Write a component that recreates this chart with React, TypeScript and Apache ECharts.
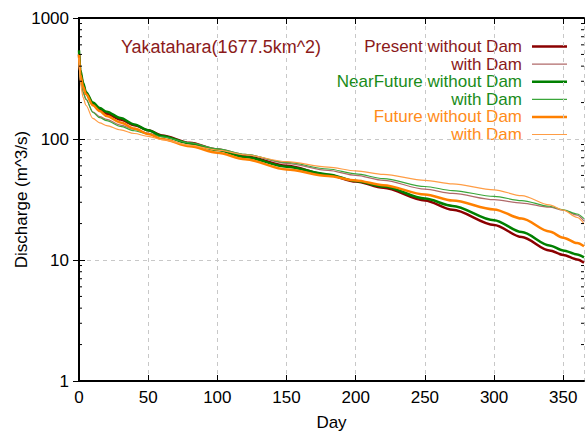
import React, { useEffect, useRef } from "react";
import * as echarts from "echarts";

const days = [0, 1, 3, 5, 10, 15, 20, 30, 40, 50, 60, 80, 100, 120, 150, 180, 200, 220, 250, 270, 300, 320, 340, 350, 360, 365];

const presentNoDam = [500, 350, 280, 240, 195, 175, 162, 145, 130, 118, 107, 93, 82, 72, 60, 50.5, 44.5, 39.5, 31, 26, 19.5, 15.5, 12, 11, 10.1, 9.5];
const presentDam = [450, 300, 240, 212, 168, 153, 145, 130, 120, 112, 105, 93, 83, 74.5, 63, 55, 50, 45.5, 38.5, 35.5, 31.5, 29.5, 27.3, 25.8, 23.5, 21];
const nearNoDam = [540, 370, 290, 245, 200, 180, 168, 149, 132, 118, 106, 92, 81, 71, 59, 51, 45, 40.5, 32.2, 28, 21.3, 17, 13.2, 12, 11.1, 10.5];
const nearDam = [480, 310, 245, 215, 166, 150, 142, 127, 117, 110, 104, 93, 83, 74.5, 64, 56.5, 51.5, 47, 40.5, 37.5, 33.5, 31, 27.8, 26, 24, 22];
const futureNoDam = [500, 340, 270, 235, 190, 170, 155, 137, 122, 110, 100, 87, 77, 68, 56, 49.5, 45.5, 41.5, 34.8, 31, 26.2, 22, 17.2, 15.3, 13.8, 13];
const futureDam = [470, 290, 220, 190, 148, 136, 129, 119, 111, 105, 99, 89, 81, 74, 65, 58.5, 54.5, 51, 45.5, 42.5, 38, 34, 28.5, 25.8, 22.5, 20];

const seriesNames = [
  "Present without Dam",
  "with Dam",
  "NearFuture without Dam",
  "with Dam",
  "Future without Dam",
  "with Dam",
];
const seriesValues = [presentNoDam, presentDam, nearNoDam, nearDam, futureNoDam, futureDam];
const lineColors = ["#8b0000", "#b06a6a", "#008000", "#3aa63a", "#ff8000", "#ff9d45"];
const textColors = ["#8b1a1a", "#8b1a1a", "#1a8c1a", "#1a8c1a", "#ff8c1a", "#ff8c1a"];
const lineWidths = [2.5, 1.2, 2.5, 1.2, 2.5, 1.2];

const chartTitle = "Yakatahara(1677.5km^2)";
const minorVals = [2, 3, 4, 5, 6, 7, 8, 9, 20, 30, 40, 50, 60, 70, 80, 90, 200, 300, 400, 500, 600, 700, 800, 900];

const FONT = "Liberation Sans, Arial, sans-serif";

export default function App() {
  const ref = useRef<HTMLDivElement>(null);
  useEffect(() => {
    if (!ref.current) return;
    const chart = echarts.init(ref.current, undefined, { renderer: "svg" });

    const lineSeries = seriesValues.map((vals, i) => ({
      type: "line",
      name: seriesNames[i] + i,
      data: days.map((d, j) => [d, vals[j]]),
      showSymbol: false,
      smooth: 0.3,
      smoothMonotone: "x",
      lineStyle: { color: lineColors[i], width: lineWidths[i] },
      itemStyle: { color: lineColors[i] },
      z: 3,
    }));

    const minorSeries = {
      type: "custom",
      data: minorVals.map((v) => [0, v]),
      encode: { x: 0, y: 1 },
      silent: true,
      clip: false,
      z: 5,
      renderItem: (params: any, api: any) => {
        const cs = params.coordSys;
        const y = api.coord([0, api.value(1)])[1];
        const x0 = cs.x;
        const x1 = cs.x + cs.width;
        return {
          type: "group",
          children: [
            { type: "line", shape: { x1: x0, y1: y, x2: x0 + 3, y2: y }, style: { stroke: "#000", lineWidth: 1 } },
            { type: "line", shape: { x1: x1 - 3, y1: y, x2: x1, y2: y }, style: { stroke: "#000", lineWidth: 1 } },
          ],
        };
      },
    };

    const legendX = 522;
    const legendY0 = 46.5;
    const legendStep = 17.6;
    const legendGraphics: any[] = [];
    seriesNames.forEach((n, i) => {
      const y = legendY0 + i * legendStep;
      legendGraphics.push({
        type: "text",
        x: legendX,
        y,
        style: { text: n, align: "right", verticalAlign: "middle", fill: textColors[i], font: `17px ${FONT}`, lineHeight: 16 },
      });
      legendGraphics.push({
        type: "line",
        shape: { x1: 532, y1: y, x2: 567, y2: y },
        style: { stroke: lineColors[i], lineWidth: lineWidths[i] },
      });
    });
    legendGraphics.push({
      type: "text",
      x: 221,
      y: 46.5,
      style: { text: chartTitle, align: "center", verticalAlign: "middle", fill: "#8b1a1a", font: `18px ${FONT}`, lineHeight: 16 },
    });

    const axisCommon = {
      axisLine: { show: true, lineStyle: { color: "#000", width: 2 } },
      axisTick: { show: true, inside: true, length: 6, lineStyle: { color: "#000", width: 1 } },
    };

    chart.setOption({
      animation: false,
      textStyle: { fontFamily: FONT },
      grid: { left: 79, right: 1, top: 18, bottom: 51, containLabel: false, outerBoundsMode: "none" },
      xAxis: [
        {
          type: "value",
          min: 0,
          max: 365,
          interval: 50,
          ...axisCommon,
          axisLabel: { fontSize: 17, color: "#000", margin: 8, fontFamily: FONT },
          splitLine: { show: true, lineStyle: { color: "#c8c8c8", type: [4, 4], width: 1 } },
          name: "Day",
          nameLocation: "middle",
          nameGap: 33,
          nameMoveOverlap: false,
          nameTextStyle: { fontSize: 17, color: "#000", fontFamily: FONT },
        },
        {
          type: "value",
          position: "top",
          min: 0,
          max: 365,
          interval: 50,
          ...axisCommon,
          axisLabel: { show: false },
          splitLine: { show: false },
        },
      ],
      yAxis: [
        {
          type: "log",
          logBase: 10,
          min: 1,
          max: 1000,
          ...axisCommon,
          axisLabel: { fontSize: 17, color: "#000", margin: 10, fontFamily: FONT, formatter: (v: number) => String(Math.round(v)) },
          splitLine: { show: true, lineStyle: { color: "#c8c8c8", type: [4, 4], width: 1 } },
          name: "Discharge (m^3/s)",
          nameLocation: "middle",
          nameGap: 49,
          nameMoveOverlap: false,
          nameTextStyle: { fontSize: 17, color: "#000", fontFamily: FONT },
        },
        {
          type: "log",
          logBase: 10,
          position: "right",
          min: 1,
          max: 1000,
          ...axisCommon,
          axisLabel: { show: false },
          splitLine: { show: false },
        },
      ],
      graphic: legendGraphics,
      series: [...lineSeries, minorSeries],
    });

    return () => chart.dispose();
  }, []);

  return <div ref={ref} style={{ width: 585, height: 432, position: "absolute", left: 0, top: 0 }} />;
}
